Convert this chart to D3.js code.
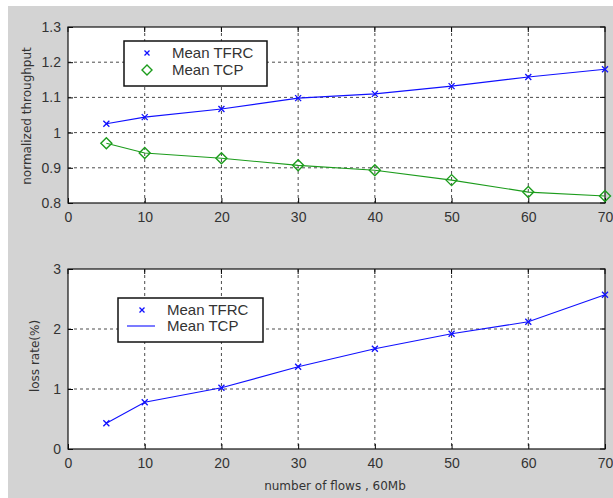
<!DOCTYPE html>
<html>
<head>
<meta charset="utf-8">
<script src="https://cdn.jsdelivr.net/npm/d3@7/dist/d3.min.js"></script>
<style>
  html, body { margin: 0; padding: 0; background: #ffffff; }
  svg { display: block; }
</style>
</head>
<body>
<svg id="fig" width="613" height="498"></svg>
<script>
// Number of concurrent flows on the 60Mb link
const flows = [5, 10, 20, 30, 40, 50, 60, 70];

// Normalized throughput per protocol
const tfrcThroughput = [1.025, 1.044, 1.067, 1.098, 1.110, 1.132, 1.158, 1.180];
const tcpThroughput  = [0.970, 0.942, 0.927, 0.907, 0.893, 0.865, 0.831, 0.820];

// Mean loss rate (%)
const lossRate = [0.43, 0.78, 1.02, 1.37, 1.67, 1.92, 2.12, 2.57];

const xTicks = [0, 10, 20, 30, 40, 50, 60, 70];
const thrTicks = [0.8, 0.9, 1.0, 1.1, 1.2, 1.3];
const thrTickLabels = ["0.8", "0.9", "1", "1.1", "1.2", "1.3"];
const lossTicks = [0, 1, 2, 3];
const legendLabels = ["Mean TFRC", "Mean TCP"];

const svg = d3.select("#fig");
const W = 613, H = 498;
const BLUE = "#1010ff", GREEN = "#1c9c1c";
const TICK_FONT = "'Liberation Sans', Arial, sans-serif";
const LABEL_FONT = "'DejaVu Sans', Verdana, sans-serif";

// figure background
svg.append("rect").attr("x", 8).attr("y", 6).attr("width", W - 8).attr("height", H - 6)
  .attr("fill", "#d3d3d3");

const x0 = 68, x1 = 605;

function panel(top, bottom, yDomain, yTicks, yLabelsArr) {
  const x = d3.scaleLinear().domain([0, 70]).range([x0, x1]);
  const y = d3.scaleLinear().domain(yDomain).range([bottom, top]);
  const g = svg.append("g");
  g.append("rect").attr("x", x0).attr("y", top).attr("width", x1 - x0).attr("height", bottom - top)
    .attr("fill", "#ffffff");
  // dotted grid
  const grid = g.append("g").attr("stroke", "#111").attr("stroke-width", 1)
    .attr("stroke-dasharray", "3,3").attr("opacity", 0.75);
  xTicks.slice(1, -1).forEach(t => grid.append("line")
    .attr("x1", x(t)).attr("x2", x(t)).attr("y1", top).attr("y2", bottom));
  yTicks.slice(1, -1).forEach(t => grid.append("line")
    .attr("x1", x0).attr("x2", x1).attr("y1", y(t)).attr("y2", y(t)));
  // axes with inward ticks
  const ax = g.append("g").attr("transform", `translate(0,${bottom})`)
    .call(d3.axisBottom(x).tickValues(xTicks).tickSize(-5).tickPadding(9).tickFormat(d3.format("d")));
  const ay = g.append("g").attr("transform", `translate(${x0},0)`)
    .call(d3.axisLeft(y).tickValues(yTicks).tickSize(-5).tickPadding(7)
      .tickFormat((d, i) => yLabelsArr[i]));
  [ax, ay].forEach(a => {
    a.select(".domain").remove();
    a.selectAll("line").attr("stroke", "#000");
    a.selectAll("text").style("font-size", "14px").style("fill", "#333")
      .style("font-family", TICK_FONT);
  });
  // top/right ticks
  const tk = g.append("g").attr("stroke", "#000");
  xTicks.forEach(t => tk.append("line").attr("x1", x(t)).attr("x2", x(t)).attr("y1", top).attr("y2", top + 5));
  yTicks.forEach(t => tk.append("line").attr("x1", x1).attr("x2", x1 - 5).attr("y1", y(t)).attr("y2", y(t)));
  g.append("rect").attr("x", x0).attr("y", top).attr("width", x1 - x0).attr("height", bottom - top)
    .attr("fill", "none").attr("stroke", "#111").attr("stroke-width", 1.2);
  return { x, y, g };
}

function xMark(g, cx, cy, color, s) {
  g.append("path").attr("d", `M${cx - s},${cy - s}L${cx + s},${cy + s}M${cx - s},${cy + s}L${cx + s},${cy - s}`)
    .attr("stroke", color).attr("stroke-width", 1.3).attr("fill", "none");
}
function diamond(g, cx, cy, color, s) {
  g.append("path").attr("d", `M${cx - s},${cy}L${cx},${cy - s}L${cx + s},${cy}L${cx},${cy + s}Z`)
    .attr("stroke", color).attr("stroke-width", 1.4).attr("fill", "none");
}
function label(g, txt, font, size) {
  return g.append("text").style("font-family", font).style("font-size", size + "px")
    .style("fill", "#333").text(txt);
}

// ---- Top panel: throughput ----
const p1 = panel(27, 203, [0.8, 1.3], thrTicks, thrTickLabels);
const line1 = d3.line().x((d, i) => p1.x(flows[i])).y(d => p1.y(d));
p1.g.append("path").datum(tfrcThroughput).attr("d", line1).attr("fill", "none")
  .attr("stroke", BLUE).attr("stroke-width", 1.1);
p1.g.append("path").datum(tcpThroughput).attr("d", line1).attr("fill", "none")
  .attr("stroke", GREEN).attr("stroke-width", 1.1);
tfrcThroughput.forEach((v, i) => xMark(p1.g, p1.x(flows[i]), p1.y(v), BLUE, 3));
tcpThroughput.forEach((v, i) => diamond(p1.g, p1.x(flows[i]), p1.y(v), GREEN, 5.5));

// legend
const lg1 = svg.append("g");
lg1.append("rect").attr("x", 124).attr("y", 41).attr("width", 143).attr("height", 45)
  .attr("fill", "#fff").attr("stroke", "#111").attr("stroke-width", 1.5);
xMark(lg1, 147, 53, BLUE, 2.5);
diamond(lg1, 147, 70, GREEN, 5);
legendLabels.forEach((t, i) => label(lg1, t, TICK_FONT, 15).attr("x", 172).attr("y", 58 + i * 17));

label(p1.g, "normalized throughput", LABEL_FONT, 12)
  .attr("transform", "translate(31,116) rotate(-90)").attr("text-anchor", "middle");

// ---- Bottom panel: loss rate ----
const p2 = panel(269, 449, [0, 3], lossTicks, lossTicks.map(String));
const line2 = d3.line().x((d, i) => p2.x(flows[i])).y(d => p2.y(d));
p2.g.append("path").datum(lossRate).attr("d", line2).attr("fill", "none")
  .attr("stroke", BLUE).attr("stroke-width", 1.1);
lossRate.forEach((v, i) => xMark(p2.g, p2.x(flows[i]), p2.y(v), BLUE, 3));

const lg2 = svg.append("g");
lg2.append("rect").attr("x", 118).attr("y", 298).attr("width", 145).attr("height", 44)
  .attr("fill", "#fff").attr("stroke", "#111").attr("stroke-width", 1.5);
xMark(lg2, 142, 310, BLUE, 2.5);
lg2.append("line").attr("x1", 127).attr("x2", 155).attr("y1", 326).attr("y2", 326)
  .attr("stroke", BLUE).attr("stroke-width", 1.1);
legendLabels.forEach((t, i) => label(lg2, t, TICK_FONT, 15).attr("x", 167).attr("y", 315 + i * 16));

label(p2.g, "loss rate(%)", LABEL_FONT, 12)
  .attr("transform", "translate(39,356) rotate(-90)").attr("text-anchor", "middle");
label(p2.g, "number of flows , 60Mb", LABEL_FONT, 12)
  .attr("x", 335).attr("y", 490).attr("text-anchor", "middle");
</script>
</body>
</html>
